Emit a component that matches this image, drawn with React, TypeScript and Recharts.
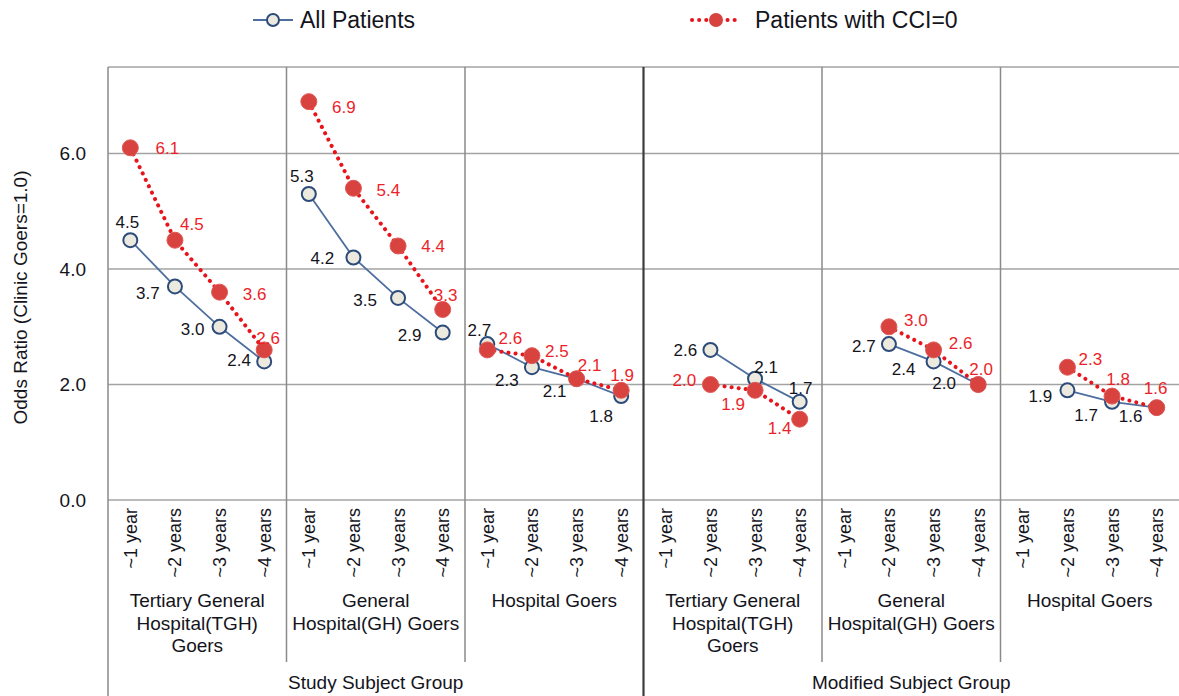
import React from 'react'
import {
  LineChart,
  Line,
  XAxis,
  YAxis,
  CartesianGrid,
  ReferenceLine
} from 'recharts'

const PERIODS = ['~1 year', '~2 years', '~3 years', '~4 years']
const GROUP_LABELS = [
  ['Tertiary General', 'Hospital(TGH)', 'Goers'],
  ['General', 'Hospital(GH) Goers'],
  ['Hospital Goers'],
  ['Tertiary General', 'Hospital(TGH)', 'Goers'],
  ['General', 'Hospital(GH) Goers'],
  ['Hospital Goers'],
]
const SUPER_GROUPS = ['Study Subject Group', 'Modified Subject Group']
const Y_TICKS = [0, 2, 4, 6]

// odds ratio per group, ~1 .. ~4 years
const ALL_PATIENTS = [
  [4.5, 3.7, 3.0, 2.4],
  [5.3, 4.2, 3.5, 2.9],
  [2.7, 2.3, 2.1, 1.8],
  [null, 2.6, 2.1, 1.7],
  [null, 2.7, 2.4, 2.0],
  [null, 1.9, 1.7, 1.6],
]
const CCI_ZERO = [
  [6.1, 4.5, 3.6, 2.6],
  [6.9, 5.4, 4.4, 3.3],
  [2.6, 2.5, 2.1, 1.9],
  [null, 2.0, 1.9, 1.4],
  [null, 3.0, 2.6, 2.0],
  [null, 2.3, 1.8, 1.6],
]

// label placement (offset of label centre from the marker)
const ALL_LABEL_POS = [
  [[-3, -18], [-27, 6], [-27, 2], [-25, -2]],
  [[-7, -18], [-31, 0], [-33, 2], [-33, 2]],
  [[-8, -14], [-25, 13], [-22, 12], [-20, 20]],
  [null, [-25, 0], [11, -12], [1, -14]],
  [null, [-25, 2], [-30, 7], [-34, -2]],
  [null, [-27, 6], [-26, 13], [-26, 8]],
]
const CCI_LABEL_POS = [
  [[37, 0], [17, -16], [35, 2], [4, -12]],
  [[35, 5], [35, 2], [35, 0], [3, -15]],
  [[23, -12], [25, -5], [13, -14], [1, -15]],
  [null, [-26, -5], [-22, 14], [-20, 9]],
  [null, [27, -7], [27, -7], [3, -16]],
  [null, [23, -8], [6, -17], [-1, -20]],
]

const FONT = '"Liberation Sans", Arial, sans-serif'
const TEXT = '#14141c'
const BLUE_LINE = '#4d6e9e'
const BLUE_EDGE = '#2c4b7a'
const BLUE_FILL = '#eceadf'
const RED_LINE = '#e8141c'
const RED_DOT = '#d8423f'
const RED_TEXT = '#ec1f2a'
const GRID = '#a3a3a3'

const rows = PERIODS.length * GROUP_LABELS.length
const data = Array.from({ length: rows }, (_, i) => {
  const g = Math.floor(i / 4)
  const p = i % 4
  return {
    i,
    g,
    p,
    period: PERIODS[p],
    [`a${g}`]: ALL_PATIENTS[g][p],
    [`c${g}`]: CCI_ZERO[g][p],
  }
})

const periodTicks = data.map((d) => d.i)
const groupTicks = GROUP_LABELS.map((_, g) => g * 4 + 1.5)
const superTicks = SUPER_GROUPS.map((_, s) => s * 12 + 5.5)

const separators = [
  { x: -0.5, depth: 196, color: '#8a8a8a', w: 1.5 },
  { x: 3.5, depth: 162, color: '#8a8a8a', w: 1.5 },
  { x: 7.5, depth: 162, color: '#8a8a8a', w: 1.5 },
  { x: 11.5, depth: 196, color: '#3c3c3c', w: 2.2 },
  { x: 15.5, depth: 162, color: '#8a8a8a', w: 1.5 },
  { x: 19.5, depth: 162, color: '#8a8a8a', w: 1.5 },
]

const PeriodTick = (props: any) => {
  const { x, y, payload } = props
  const label = PERIODS[payload.value % 4]
  const ty = y + 8
  return (
    <text
      x={x}
      y={ty}
      dy="0.36em"
      transform={`rotate(-90, ${x}, ${ty})`}
      textAnchor="end"
      fontFamily={FONT}
      fontSize={18}
      fill={TEXT}
    >
      {label}
    </text>
  )
}

const GroupTick = (props: any) => {
  const { x, y, index } = props
  const lines = GROUP_LABELS[index] || []
  return (
    <text x={x} y={y + 22} textAnchor="middle" fontFamily={FONT} fontSize={19} fill={TEXT}>
      {lines.map((l, k) => (
        <tspan key={k} x={x} dy={k === 0 ? 0 : 22.5}>
          {l}
        </tspan>
      ))}
    </text>
  )
}

const SuperTick = (props: any) => {
  const { x, y, index } = props
  return (
    <text x={x} y={y + 29} textAnchor="middle" fontFamily={FONT} fontSize={19} fill={TEXT}>
      {SUPER_GROUPS[index]}
    </text>
  )
}

const makeDot = (kind: 'all' | 'cci') => (props: any) => {
  const { cx, cy, payload, value, index } = props
  if (cx == null || cy == null || value == null) return <g key={`${kind}-${index}`} />
  const pos = (kind === 'all' ? ALL_LABEL_POS : CCI_LABEL_POS)[payload.g][payload.p] || [0, -15]
  return (
    <g key={`${kind}-${index}`}>
      {kind === 'all' ? (
        <circle cx={cx} cy={cy} r={7} fill={BLUE_FILL} stroke={BLUE_EDGE} strokeWidth={2} />
      ) : (
        <circle cx={cx} cy={cy} r={8} fill={RED_DOT} stroke="#e05a56" strokeWidth={1} />
      )}
      <text
        x={cx + pos[0]}
        y={cy + pos[1]}
        dy="0.36em"
        textAnchor="middle"
        fontFamily={FONT}
        fontSize={17}
        fill={kind === 'all' ? TEXT : RED_TEXT}
      >
        {Number(value).toFixed(1)}
      </text>
    </g>
  )
}

const allDot = makeDot('all')
const cciDot = makeDot('cci')

const YLabel = (props: any) => {
  const vb = props.viewBox || { x: 0, y: 67, width: 108, height: 433 }
  const cx = 20
  const cy = vb.y + vb.height / 2 + 14
  return (
    <text
      x={cx}
      y={cy}
      dy="0.36em"
      transform={`rotate(-90, ${cx}, ${cy})`}
      textAnchor="middle"
      fontFamily={FONT}
      fontSize={19}
      fill={TEXT}
    >
      Odds Ratio (Clinic Goers=1.0)
    </text>
  )
}

export default function App() {
  return (
    <div style={{ position: 'absolute', left: 0, top: 0, width: 1179, height: 696, background: '#fff' }}>
      {/* legend */}
      <div style={{ position: 'absolute', left: 0, top: 0, width: 1179, height: 40, fontFamily: FONT, fontSize: 23, color: TEXT, lineHeight: '26px' }}>
        <svg style={{ position: 'absolute', left: 253, top: 12 }} width={40} height={16}>
          <line x1={0} y1={8} x2={40} y2={8} stroke={BLUE_LINE} strokeWidth={2} />
          <circle cx={20} cy={8} r={6} fill={BLUE_FILL} stroke={BLUE_EDGE} strokeWidth={2} />
        </svg>
        <span style={{ position: 'absolute', left: 300, top: 7 }}>All Patients</span>
        <svg style={{ position: 'absolute', left: 690, top: 11 }} width={52} height={18}>
          <line x1={2} y1={9} x2={50} y2={9} stroke={RED_LINE} strokeWidth={4} strokeDasharray="0.1 7" strokeLinecap="round" />
          <circle cx={26} cy={9} r={7} fill={RED_DOT} />
        </svg>
        <span style={{ position: 'absolute', left: 755, top: 7 }}>Patients with CCI=0</span>
      </div>
      <LineChart
        width={1179}
        height={696}
        data={data}
        margin={{ top: 67, right: 0, left: 0, bottom: 0 }}
      >
        <CartesianGrid horizontal vertical={false} stroke={GRID} strokeWidth={1.5} />
        <XAxis
          dataKey="i"
          type="number"
          domain={[-0.5, 23.5]}
          ticks={periodTicks}
          interval={0}
          height={85}
          axisLine={false}
          tickLine={false}
          tickSize={0}
          tickMargin={0}
          tick={<PeriodTick />}
        />
        <XAxis
          xAxisId="grp"
          dataKey="i"
          type="number"
          domain={[-0.5, 23.5]}
          ticks={groupTicks}
          interval={0}
          height={75}
          axisLine={false}
          tickLine={false}
          tickSize={0}
          tickMargin={0}
          tick={<GroupTick />}
        />
        <XAxis
          xAxisId="sup"
          dataKey="i"
          type="number"
          domain={[-0.5, 23.5]}
          ticks={superTicks}
          interval={0}
          height={36}
          axisLine={false}
          tickLine={false}
          tickSize={0}
          tickMargin={0}
          tick={<SuperTick />}
        />
        <YAxis
          type="number"
          domain={[0, 7.5]}
          ticks={Y_TICKS}
          width={108}
          axisLine={false}
          tickLine={false}
          tickSize={0}
          tickMargin={22}
          tickFormatter={(v: number) => v.toFixed(1)}
          tick={{ fill: TEXT, fontSize: 19, fontFamily: FONT }}
          label={<YLabel />}
        />
        {separators.map((s) => (
          <ReferenceLine
            key={s.x}
            x={s.x}
            shape={(p: any) => {
              const top = Math.min(p.y1, p.y2)
              const bottom = Math.max(p.y1, p.y2)
              return <line x1={p.x1} x2={p.x1} y1={top} y2={bottom + s.depth} stroke={s.color} strokeWidth={s.w} />
            }}
          />
        ))}
        {GROUP_LABELS.map((_, g) => (
          <Line
            key={`a${g}`}
            dataKey={`a${g}`}
            type="linear"
            stroke={BLUE_LINE}
            strokeWidth={1.8}
            dot={allDot}
            activeDot={false}
            isAnimationActive={false}
          />
        ))}
        {GROUP_LABELS.map((_, g) => (
          <Line
            key={`c${g}`}
            dataKey={`c${g}`}
            type="linear"
            stroke={RED_LINE}
            strokeWidth={4}
            strokeDasharray="0.1 7"
            strokeLinecap="round"
            dot={cciDot}
            activeDot={false}
            isAnimationActive={false}
          />
        ))}
      </LineChart>
    </div>
  )
}
